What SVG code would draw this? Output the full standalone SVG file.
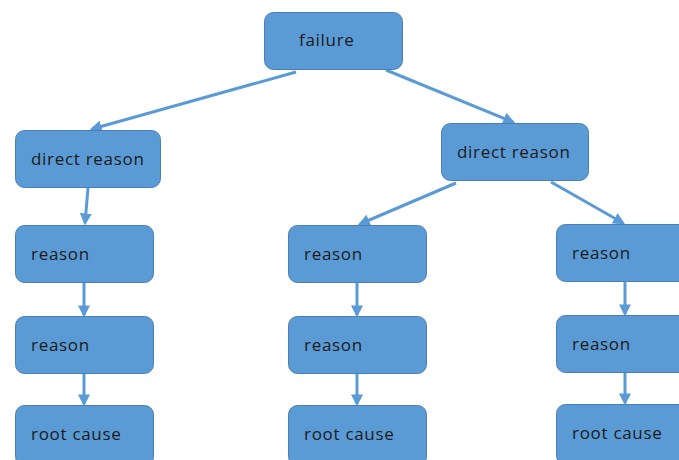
<svg xmlns="http://www.w3.org/2000/svg" width="679" height="460" viewBox="0 0 679 460">
<style>
.n rect{fill:#5B9BD5;stroke:#4A7EBB;stroke-width:1}
.n text{font-family:"Open Sans","Liberation Sans",sans-serif;font-size:17px;letter-spacing:0.7px;fill:#1a1a1a}
.c line{stroke:#5B9BD5;stroke-width:3;marker-end:url(#ah)}
</style>
<defs>
<marker id="ah" viewBox="0 0 10 10" refX="8" refY="5" markerWidth="4" markerHeight="4" orient="auto" markerUnits="strokeWidth">
<path d="M0,0 L10,5 L0,10 z" fill="#5B9BD5"/>
</marker>
</defs>
<rect width="679" height="460" fill="#ffffff"/>
<g class="c">
<line x1="296" y1="72" x2="92" y2="129"/>
<line x1="386" y1="70" x2="513" y2="122"/>
<line x1="88" y1="188" x2="85" y2="223"/>
<line x1="456" y1="183" x2="360" y2="224"/>
<line x1="551" y1="182" x2="623" y2="223"/>
<line x1="84" y1="283" x2="84" y2="315"/>
<line x1="84" y1="374" x2="84" y2="404"/>
<line x1="357" y1="283" x2="357" y2="315"/>
<line x1="357" y1="374" x2="357" y2="404"/>
<line x1="625" y1="282" x2="625" y2="314"/>
<line x1="625" y1="373" x2="625" y2="403"/>
</g>
<g id="failure" class="n"><rect x="264.5" y="12.5" width="138" height="57" rx="9"/><text x="299" y="46">failure</text></g>
<g id="direct1" class="n"><rect x="15.5" y="130.5" width="145" height="57" rx="9"/><text x="31" y="165">direct reason</text></g>
<g id="direct2" class="n"><rect x="441.5" y="123.5" width="147" height="57" rx="9"/><text x="457" y="158">direct reason</text></g>
<g id="reasonL1" class="n"><rect x="15.5" y="225.5" width="138" height="57" rx="9"/><text x="31" y="260">reason</text></g>
<g id="reasonL2" class="n"><rect x="15.5" y="316.5" width="138" height="57" rx="9"/><text x="31" y="351">reason</text></g>
<g id="rootL" class="n"><rect x="15.5" y="405.5" width="138" height="60" rx="9"/><text x="31" y="440">root cause</text></g>
<g id="reasonM1" class="n"><rect x="288.5" y="225.5" width="138" height="57" rx="9"/><text x="304" y="260">reason</text></g>
<g id="reasonM2" class="n"><rect x="288.5" y="316.5" width="138" height="57" rx="9"/><text x="304" y="351">reason</text></g>
<g id="rootM" class="n"><rect x="288.5" y="405.5" width="138" height="60" rx="9"/><text x="304" y="440">root cause</text></g>
<g id="reasonR1" class="n"><rect x="556.5" y="224.5" width="138" height="57" rx="9"/><text x="572" y="259">reason</text></g>
<g id="reasonR2" class="n"><rect x="556.5" y="315.5" width="138" height="57" rx="9"/><text x="572" y="350">reason</text></g>
<g id="rootR" class="n"><rect x="556.5" y="404.5" width="138" height="60" rx="9"/><text x="572" y="439">root cause</text></g>
</svg>
